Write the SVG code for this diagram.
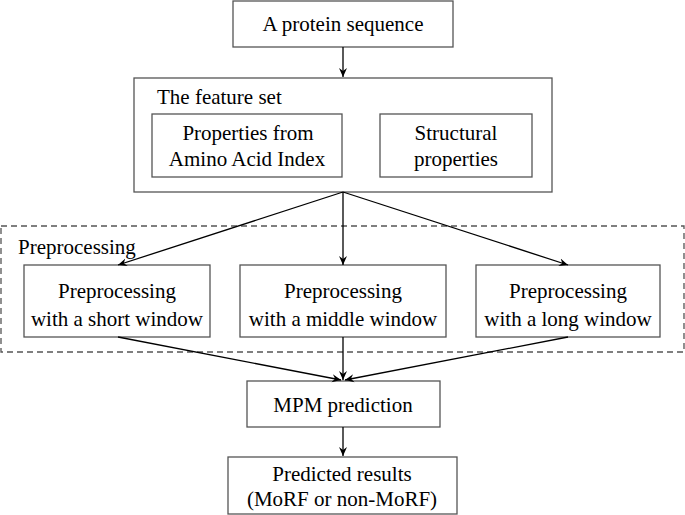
<svg xmlns="http://www.w3.org/2000/svg" width="685" height="515" viewBox="0 0 685 515">
<defs>
<marker id="ah" markerWidth="10" markerHeight="10" refX="9" refY="5" orient="auto" markerUnits="userSpaceOnUse">
<path d="M0,1 L9,5 L0,9 L3,5 Z" fill="#000"/>
</marker>
<style>
.box{fill:#fff;stroke:#555;stroke-width:1.3}
.c{stroke:#000;stroke-width:1.3;fill:none;marker-end:url(#ah)}
</style>
</defs>
<rect width="685" height="515" fill="#fff"/>
<g id="preprocessing-group">
<rect x="1" y="226" width="683" height="126" fill="none" stroke="#555" stroke-width="1.3" stroke-dasharray="6,4"/>
<text x="18" y="254" font-family="Liberation Serif" font-size="21">Preprocessing</text>
</g>
<g id="protein">
<rect class="box" x="233" y="1" width="220" height="46"/>
<text x="343" y="31" font-family="Liberation Serif" font-size="21" text-anchor="middle">A protein sequence</text>
</g>
<g id="featureset">
<rect class="box" x="134" y="78" width="418" height="114"/>
<text x="157" y="104" font-family="Liberation Serif" font-size="21">The feature set</text>
</g>
<g id="aaindex">
<rect class="box" x="152" y="114" width="190" height="63"/>
<text x="248" y="140" font-family="Liberation Serif" font-size="21" text-anchor="middle">Properties from</text>
<text x="247" y="166" font-family="Liberation Serif" font-size="21" text-anchor="middle">Amino Acid Index</text>
</g>
<g id="structural">
<rect class="box" x="380" y="114" width="152" height="63"/>
<text x="456" y="140" font-family="Liberation Serif" font-size="21" text-anchor="middle">Structural</text>
<text x="456" y="166" font-family="Liberation Serif" font-size="21" text-anchor="middle">properties</text>
</g>
<g id="short">
<rect class="box" x="24" y="265" width="186" height="72"/>
<text x="117" y="298" font-family="Liberation Serif" font-size="21" text-anchor="middle">Preprocessing</text>
<text x="117" y="326" font-family="Liberation Serif" font-size="21" text-anchor="middle">with a short window</text>
</g>
<g id="middle">
<rect class="box" x="240" y="265" width="206" height="72"/>
<text x="343" y="298" font-family="Liberation Serif" font-size="21" text-anchor="middle">Preprocessing</text>
<text x="343" y="326" font-family="Liberation Serif" font-size="21" text-anchor="middle">with a middle window</text>
</g>
<g id="long">
<rect class="box" x="476" y="265" width="184" height="72"/>
<text x="568" y="298" font-family="Liberation Serif" font-size="21" text-anchor="middle">Preprocessing</text>
<text x="568" y="326" font-family="Liberation Serif" font-size="21" text-anchor="middle">with a long window</text>
</g>
<g id="mpm">
<rect class="box" x="247" y="381" width="193" height="46"/>
<text x="343" y="412" font-family="Liberation Serif" font-size="21" text-anchor="middle">MPM prediction</text>
</g>
<g id="results">
<rect class="box" x="228" y="457" width="229" height="57"/>
<text x="342" y="481" font-family="Liberation Serif" font-size="21" text-anchor="middle">Predicted results</text>
<text x="342" y="506" font-family="Liberation Serif" font-size="21" text-anchor="middle">(MoRF or non-MoRF)</text>
</g>
<g id="connectors">
<line class="c" x1="343" y1="47" x2="343" y2="77"/>
<line class="c" x1="343" y1="192" x2="118" y2="265"/>
<line class="c" x1="343" y1="192" x2="343" y2="265"/>
<line class="c" x1="343" y1="192" x2="568" y2="265"/>
<line class="c" x1="118" y1="337" x2="341" y2="380"/>
<line class="c" x1="343" y1="337" x2="343" y2="380"/>
<line class="c" x1="568" y1="337" x2="345" y2="380"/>
<line class="c" x1="343" y1="427" x2="343" y2="456"/>
</g>
</svg>
